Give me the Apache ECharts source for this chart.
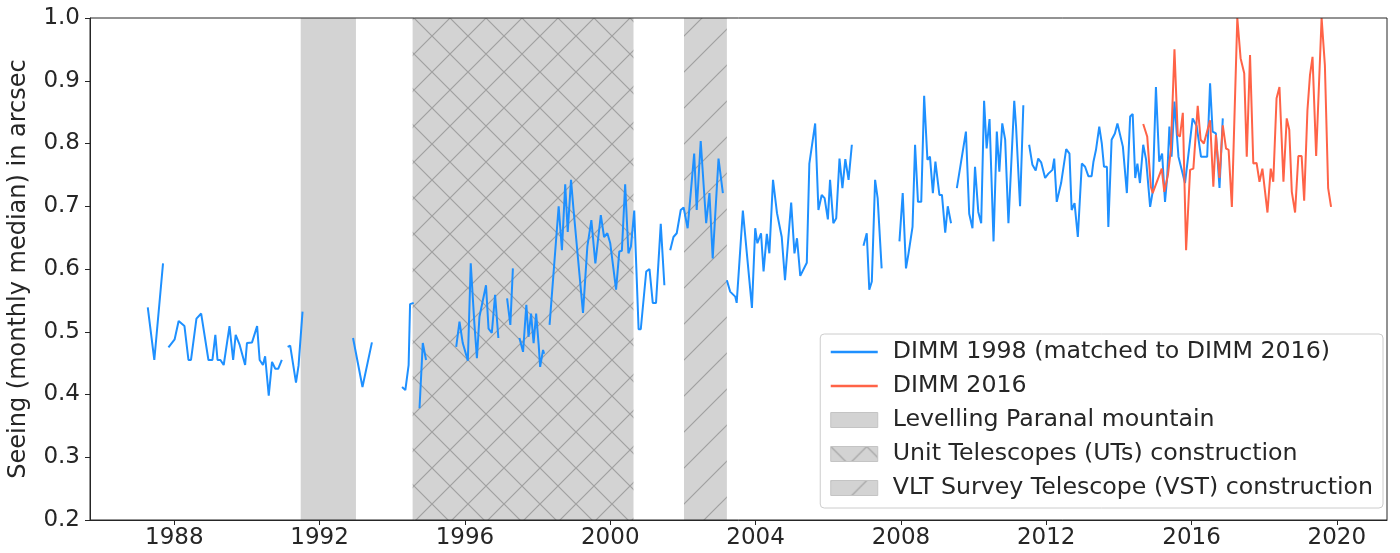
<!DOCTYPE html>
<html>
<head>
<meta charset="utf-8">
<script src="https://cdn.jsdelivr.net/npm/echarts@6/dist/echarts.min.js"></script>
<style>
html, body { margin: 0; padding: 0; background: #fff; }
#chart { width: 1400px; height: 553px; }
</style>
</head>
<body>
<div id="chart"></div>
<script>
// DIMM 1998 (matched to DIMM 2016), monthly medians; null marks a gap
const dimm1998Years = [
    1987.27, 1987.45, 1987.69, null,
    1987.84, 1988.01, 1988.12, 1988.28, 1988.39, 1988.46, 1988.61, 1988.74, 1988.94, 1989.05,
    1989.13, 1989.19, 1989.27, 1989.36, 1989.52, 1989.62, 1989.69, 1989.80, 1989.95, 1990.00,
    1990.14, 1990.28, 1990.35, 1990.44, 1990.50, 1990.60, 1990.69, 1990.78, 1990.86, 1990.96, null,
    1991.12, 1991.19, 1991.35, 1991.42, 1991.53, null,
    1992.92, 1993.18, 1993.44, null,
    1994.27, 1994.36, 1994.45, 1994.49, 1994.59, null,
    1994.75, 1994.84, 1994.93, null,
    1995.76, 1995.85, 1995.94, 1996.08, 1996.16, 1996.26, 1996.33, 1996.40, 1996.58, 1996.65,
    1996.74, 1996.83, 1996.92, null,
    1997.16, 1997.25, 1997.32, null,
    1997.50, 1997.60, 1997.69, 1997.75, 1997.82, 1997.89, 1997.96, 1998.03, 1998.07, 1998.15, 1998.18, null,
    1998.33, 1998.58, 1998.67, 1998.76, 1998.83, 1998.92, 1998.99, 1999.25, 1999.37, 1999.48,
    1999.59, 1999.74, 1999.83, 1999.92, 2000.00, 2000.16, 2000.25, 2000.32, 2000.41, 2000.50,
    2000.57, 2000.66, 2000.78, 2000.84, 2000.99, 2001.08, 2001.17, 2001.26, 2001.39, 2001.49, null,
    2001.65, 2001.74, 2001.83, 2001.94, 2002.02, 2002.13, 2002.31, 2002.38, 2002.49, 2002.64,
    2002.73, 2002.82, 2002.98, 2003.10, null,
    2003.21, 2003.30, 2003.44, 2003.48, 2003.65, 2003.90, 2003.99, 2004.05, 2004.15, 2004.22,
    2004.31, 2004.38, 2004.48, 2004.59, 2004.72, 2004.81, 2004.98, 2005.07, 2005.14, 2005.23,
    2005.41, 2005.48, 2005.64, 2005.73, 2005.82, 2005.90, 2005.99, 2006.05, 2006.14, 2006.22,
    2006.31, 2006.39, 2006.47, 2006.56, 2006.65, null,
    2006.97, 2007.06, 2007.13, 2007.20, 2007.29, 2007.36, 2007.47, null,
    2007.96, 2008.05, 2008.14, 2008.21, 2008.32, 2008.39, 2008.47, 2008.56, 2008.64, 2008.73,
    2008.80, 2008.88, 2008.95, 2009.06, 2009.13, 2009.22, 2009.29, 2009.38, null,
    2009.54, 2009.79, 2009.88, 2009.97, 2010.04, 2010.13, 2010.21, 2010.29, 2010.36, 2010.44,
    2010.55, 2010.64, 2010.71, 2010.79, 2010.87, 2010.96, 2011.12, 2011.17, 2011.28, 2011.37, null,
    2011.53, 2011.62, 2011.71, 2011.78, 2011.86, 2011.97, 2012.06, 2012.17, 2012.22, 2012.29,
    2012.41, 2012.55, 2012.64, 2012.70, 2012.78, 2012.87, 2012.98, 2013.07, 2013.16, 2013.25,
    2013.30, 2013.37, 2013.46, 2013.53, 2013.59, 2013.67, 2013.71, 2013.80, 2013.89, 2013.96,
    2014.11, 2014.22, 2014.31, 2014.38, 2014.45, 2014.51, 2014.58, 2014.67, 2014.75, 2014.86,
    2014.93, 2015.02, 2015.11, 2015.19, 2015.27, 2015.33, 2015.39, 2015.45, 2015.53, 2015.64,
    2015.82, 2015.94, 2016.03, 2016.14, 2016.26, 2016.43, 2016.51, 2016.58, 2016.67, 2016.77,
    2016.86
];
const dimm1998Seeing = [
    0.539, 0.455, 0.609, null,
    0.475, 0.488, 0.517, 0.509, 0.455, 0.455, 0.521, 0.529, 0.455, 0.455,
    0.495, 0.455, 0.455, 0.447, 0.509, 0.455, 0.495, 0.479, 0.447, 0.482,
    0.483, 0.509, 0.455, 0.447, 0.461, 0.398, 0.452, 0.441, 0.441, 0.455, null,
    0.476, 0.478, 0.419, 0.446, 0.532, null,
    0.490, 0.412, 0.483, null,
    0.412, 0.407, 0.447, 0.544, 0.546, null,
    0.378, 0.482, 0.455, null,
    0.476, 0.516, 0.482, 0.454, 0.609, 0.513, 0.458, 0.524, 0.574, 0.505,
    0.498, 0.559, 0.490, null,
    0.553, 0.511, 0.601, null,
    0.490, 0.468, 0.543, 0.492, 0.529, 0.482, 0.529, 0.479, 0.444, 0.471, 0.465, null,
    0.511, 0.700, 0.630, 0.735, 0.659, 0.742, 0.694, 0.530, 0.636, 0.678,
    0.609, 0.686, 0.651, 0.657, 0.641, 0.567, 0.628, 0.629, 0.735, 0.625,
    0.636, 0.693, 0.504, 0.504, 0.596, 0.600, 0.546, 0.546, 0.672, 0.574, null,
    0.630, 0.651, 0.657, 0.694, 0.698, 0.665, 0.784, 0.694, 0.804, 0.673,
    0.721, 0.617, 0.776, 0.721, null,
    0.582, 0.564, 0.556, 0.546, 0.693, 0.538, 0.665, 0.641, 0.657, 0.596,
    0.656, 0.625, 0.742, 0.689, 0.651, 0.582, 0.706, 0.625, 0.649, 0.589,
    0.610, 0.768, 0.832, 0.694, 0.718, 0.713, 0.679, 0.742, 0.673, 0.681,
    0.776, 0.729, 0.775, 0.742, 0.798, null,
    0.637, 0.657, 0.567, 0.580, 0.742, 0.713, 0.601, null,
    0.644, 0.721, 0.601, 0.625, 0.667, 0.798, 0.707, 0.707, 0.876, 0.774,
    0.779, 0.721, 0.771, 0.718, 0.718, 0.658, 0.700, 0.673, null,
    0.729, 0.819, 0.688, 0.665, 0.763, 0.691, 0.673, 0.868, 0.792, 0.839,
    0.644, 0.819, 0.755, 0.832, 0.806, 0.673, 0.868, 0.827, 0.700, 0.861, null,
    0.798, 0.766, 0.757, 0.776, 0.770, 0.745, 0.752, 0.758, 0.776, 0.707,
    0.737, 0.791, 0.784, 0.694, 0.705, 0.651, 0.768, 0.763, 0.748, 0.748,
    0.771, 0.790, 0.827, 0.800, 0.763, 0.763, 0.667, 0.806, 0.816, 0.832,
    0.795, 0.721, 0.843, 0.847, 0.745, 0.768, 0.737, 0.798, 0.774, 0.699,
    0.723, 0.890, 0.771, 0.784, 0.707, 0.747, 0.827, 0.779, 0.867, 0.779,
    0.737, 0.795, 0.840, 0.828, 0.779, 0.779, 0.896, 0.819, 0.816, 0.729,
    0.840
];

// DIMM 2016, monthly medians
const dimm2016Years = [
    2014.67, 2014.78, 2014.88, 2014.93, 2015.18, 2015.25, 2015.35, 2015.43, 2015.53, 2015.62,
    2015.68, 2015.76, 2015.85, 2015.96, 2016.05, 2016.17, 2016.25, 2016.34, 2016.51, 2016.60,
    2016.67, 2016.77, 2016.86, 2016.95, 2017.02, 2017.11, 2017.26, 2017.35, 2017.45, 2017.52,
    2017.61, 2017.70, 2017.79, 2017.87, 2017.95, 2018.09, 2018.18, 2018.25, 2018.34, 2018.42,
    2018.53, 2018.62, 2018.69, 2018.76, 2018.85, 2018.94, 2019.03, 2019.10, 2019.19, 2019.26,
    2019.33, 2019.43, 2019.58, 2019.67, 2019.76, 2019.84
];
const dimm2016Seeing = [
    0.831, 0.811, 0.731, 0.721, 0.760, 0.723, 0.750, 0.790, 0.950, 0.814,
    0.811, 0.849, 0.630, 0.758, 0.760, 0.860, 0.806, 0.800, 0.837, 0.731,
    0.814, 0.745, 0.829, 0.792, 0.790, 0.699, 1.000, 0.936, 0.912, 0.779,
    0.941, 0.768, 0.769, 0.739, 0.760, 0.690, 0.760, 0.739, 0.872, 0.890,
    0.739, 0.840, 0.822, 0.723, 0.690, 0.780, 0.780, 0.709, 0.853, 0.909,
    0.938, 0.780, 1.000, 0.925, 0.729, 0.699
];

// construction periods shaded on the chart
const periodNames = [
    'Levelling Paranal mountain',
    'Unit Telescopes (UTs) construction',
    'VLT Survey Telescope (VST) construction'
];
const periodStart = [1991.48, 1994.56, 2002.03];
const periodEnd = [1993.00, 2000.64, 2003.21];
const periodHatch = ['', 'x', '/'];

const tickYears = [1988, 1992, 1996, 2000, 2004, 2008, 2012, 2016, 2020];

const FONT = 'DejaVu Sans';
const TEXT = '#262626';
const SIZE = 23;

function toPairs(years, values) {
    return years.map(function (y, i) {
        return values[i] == null ? ['-', '-'] : [y, values[i]];
    });
}

function makeFill(hatch) {
    if (!hatch) {
        return '#d3d3d3';
    }
    const s = 36;
    const c = document.createElement('canvas');
    c.width = s;
    c.height = s;
    const ctx = c.getContext('2d');
    ctx.fillStyle = '#d3d3d3';
    ctx.fillRect(0, 0, s, s);
    ctx.strokeStyle = '#a0a0a0';
    ctx.lineWidth = 1.2;
    ctx.beginPath();
    for (const k of [0, s, 2 * s]) {
        ctx.moveTo(-2, k + 2);
        ctx.lineTo(k + 2, -2);
    }
    if (hatch === 'x') {
        for (const k of [-s, 0, s]) {
            ctx.moveTo(-2, -2 - k);
            ctx.lineTo(s + 2, s + 2 - k);
        }
    }
    ctx.stroke();
    return { image: c, repeat: 'repeat' };
}

const periodFills = periodHatch.map(makeFill);

const chart = echarts.init(document.getElementById('chart'));

const series = periodNames.map(function (name, i) {
    return {
        type: 'line',
        name: name,
        data: [],
        z: 1,
        silent: true,
        markArea: {
            silent: true,
            itemStyle: { color: periodFills[i], borderWidth: 0 },
            data: [[{ xAxis: periodStart[i] }, { xAxis: periodEnd[i] }]]
        }
    };
});

series.push({
    type: 'line',
    name: 'DIMM 1998 (matched to DIMM 2016)',
    data: toPairs(dimm1998Years, dimm1998Seeing),
    symbol: 'none',
    connectNulls: false,
    z: 3,
    color: '#1e90ff',
    lineStyle: { color: '#1e90ff', width: 2 }
});
series.push({
    type: 'line',
    name: 'DIMM 2016',
    data: toPairs(dimm2016Years, dimm2016Seeing),
    symbol: 'none',
    connectNulls: false,
    z: 3,
    color: '#ff6347',
    lineStyle: { color: '#ff6347', width: 2 }
});

const linePath = 'path://M0,0H40V2H0Z';

chart.setOption({
    animation: false,
    textStyle: { fontFamily: FONT },
    grid: {
        left: 90,
        right: 13,
        top: 18,
        bottom: 33,
        containLabel: false,
        outerBoundsMode: 'none',
        show: true,
        z: 5,
        borderColor: TEXT,
        borderWidth: 1
    },
    legend: {
        orient: 'vertical',
        right: 17,
        bottom: 45,
        padding: [6, 10, 8, 10],
        itemGap: 10,
        itemWidth: 47,
        itemHeight: 15,
        backgroundColor: 'rgba(255,255,255,0.85)',
        borderColor: '#cccccc',
        borderWidth: 1,
        borderRadius: 4,
        textStyle: {
            fontFamily: FONT,
            fontSize: 23.7,
            lineHeight: 24,
            color: TEXT,
            padding: [0, 0, 0, 10]
        },
        data: [
            { name: 'DIMM 1998 (matched to DIMM 2016)', icon: linePath, itemStyle: { color: '#1e90ff', borderWidth: 0 } },
            { name: 'DIMM 2016', icon: linePath, itemStyle: { color: '#ff6347', borderWidth: 0 } },
            { name: periodNames[0], icon: 'rect', itemStyle: { color: periodFills[0], borderColor: '#c4c4c4', borderWidth: 1 } },
            { name: periodNames[1], icon: 'rect', itemStyle: { color: periodFills[1], borderColor: '#c4c4c4', borderWidth: 1 } },
            { name: periodNames[2], icon: 'rect', itemStyle: { color: periodFills[2], borderColor: '#c4c4c4', borderWidth: 1 } }
        ]
    },
    xAxis: {
        type: 'value',
        min: 1985.68,
        max: 2021.38,
        z: 5,
        splitLine: { show: false },
        axisLine: { show: true, onZero: false, lineStyle: { color: TEXT, width: 1 } },
        axisTick: { show: true, length: 5, customValues: tickYears, lineStyle: { color: TEXT } },
        axisLabel: {
            customValues: tickYears,
            fontFamily: FONT,
            fontSize: SIZE,
            color: TEXT,
            margin: 7,
            formatter: function (v) { return String(v); }
        }
    },
    yAxis: {
        type: 'value',
        min: 0.2,
        max: 1.0,
        interval: 0.1,
        z: 5,
        name: 'Seeing (monthly median) in arcsec',
        nameLocation: 'middle',
        nameGap: 59,
        nameTextStyle: { fontFamily: FONT, fontSize: 24, color: TEXT },
        splitLine: { show: false },
        axisLine: { show: true, onZero: false, lineStyle: { color: TEXT, width: 1 } },
        axisTick: { show: true, length: 5, lineStyle: { color: TEXT } },
        axisLabel: {
            fontFamily: FONT,
            fontSize: SIZE,
            color: TEXT,
            margin: 10,
            formatter: function (v) { return v.toFixed(1); }
        }
    },
    series: series
});
</script>
</body>
</html>
